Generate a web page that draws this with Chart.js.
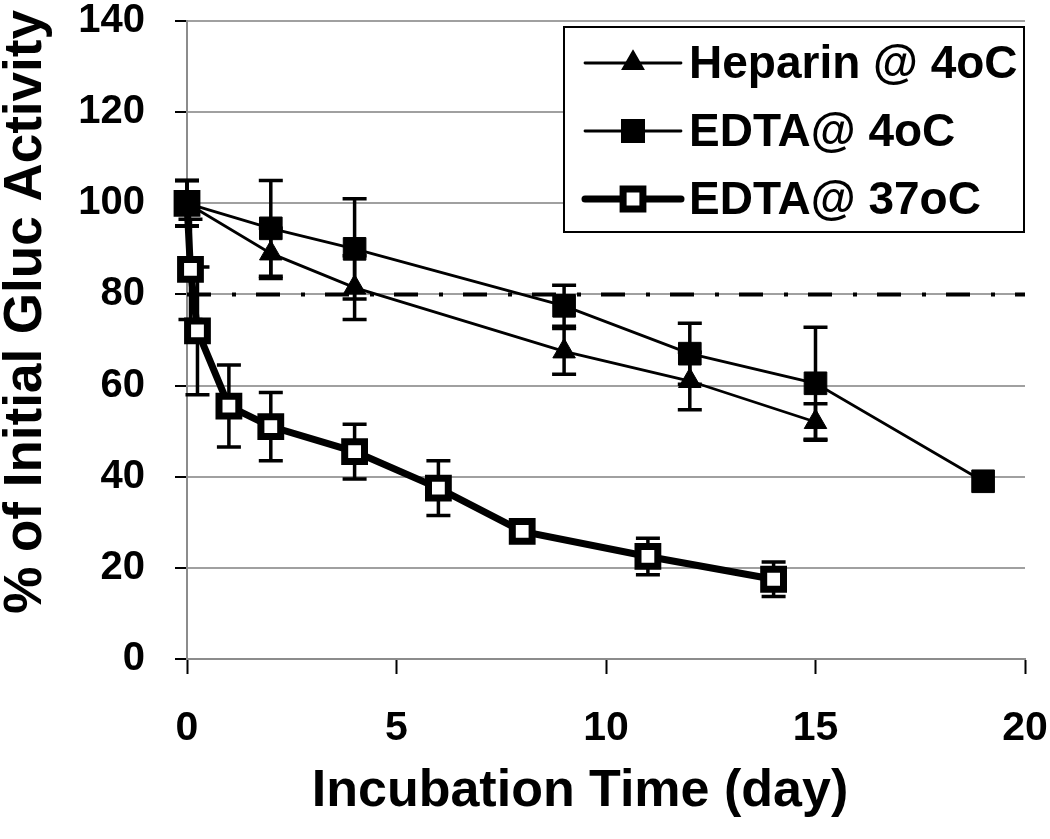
<!DOCTYPE html>
<html>
<head>
<meta charset="utf-8">
<script src="https://cdn.jsdelivr.net/npm/chart.js@4.4.0/dist/chart.umd.min.js"></script>
<style>
  body { margin: 0; background: #fff; }
</style>
</head>
<body>
<canvas id="chart" width="1050" height="839"></canvas>
<script>
// Heparin @ 4oC
const heparinDays = [0, 2, 4, 9, 12, 15];
const heparinValues = [100, 89, 81.5, 67.5, 61, 52];
const heparinErrors = [5, 5.5, 7, 5, 6.3, 4];

// EDTA@ 4oC
const edta4Days = [0, 2, 4, 9, 12, 15, 19];
const edta4Values = [100, 94.5, 90, 77.5, 67, 60.5, 39];
const edta4Errors = [5, 10.5, 11, 4.5, 6.7, 12.3, 0];

// EDTA@ 37oC
const edta37Days = [0, 0.083, 0.25, 1, 2, 4, 6, 8, 11, 14];
const edta37Values = [100, 85.5, 72, 55.5, 51, 45.5, 37.5, 28, 22.5, 17.5];
const edta37Errors = [5, 11, 14, 9, 7.5, 6, 6, 1.5, 4, 3.8];

// 80% reference line
const refDays = [0, 20];
const refValues = [80, 80];

const xTickValues = [0, 5, 10, 15, 20];
const yTickValues = [0, 20, 40, 60, 80, 100, 120, 140];

const xTitle = 'Incubation Time (day)';
const yTitle = '% of Initial Gluc Activity';

const FONT = '"Liberation Sans", Arial, sans-serif';

function toPoints(xs, ys) {
    return xs.map((x, i) => ({ x: x, y: ys[i] }));
}

// error bars drawn under the lines, through the y scale
const errorBars = {
    id: 'errorBars',
    beforeDatasetsDraw(chart) {
        const ctx = chart.ctx;
        const yScale = chart.scales.y;
        chart.data.datasets.forEach((ds, i) => {
            if (!ds.errors) return;
            const meta = chart.getDatasetMeta(i);
            ctx.save();
            ctx.strokeStyle = '#000';
            ctx.lineWidth = 3.5;
            meta.data.forEach((pt, j) => {
                const err = ds.errors[j];
                if (!err) return;
                const v = ds.data[j].y;
                const top = yScale.getPixelForValue(v + err);
                const bot = yScale.getPixelForValue(v - err);
                ctx.beginPath();
                ctx.moveTo(pt.x, top);
                ctx.lineTo(pt.x, bot);
                ctx.moveTo(pt.x - 12, top);
                ctx.lineTo(pt.x + 12, top);
                ctx.moveTo(pt.x - 12, bot);
                ctx.lineTo(pt.x + 12, bot);
                ctx.stroke();
            });
            ctx.restore();
        });
    }
};

// axis titles sit a bit off the plot centre, like the excel original
const axisTitles = {
    id: 'axisTitles',
    afterDraw(chart) {
        const ctx = chart.ctx;
        ctx.save();
        ctx.fillStyle = '#000';
        ctx.textAlign = 'center';
        ctx.textBaseline = 'middle';
        ctx.font = 'bold 52px ' + FONT;
        ctx.fillText(xTitle, 580, 792);
        ctx.translate(26, 312);
        ctx.rotate(-Math.PI / 2);
        ctx.font = 'bold 53px ' + FONT;
        ctx.fillText(yTitle, 0, 0);
        ctx.restore();
    }
};

// boxed legend in the top right corner
const boxLegend = {
    id: 'boxLegend',
    afterDraw(chart) {
        const ctx = chart.ctx;
        const x0 = 564, y0 = 27, x1 = 1024, y1 = 232;
        const rows = [63, 131, 199];
        ctx.save();
        ctx.fillStyle = '#fff';
        ctx.fillRect(x0, y0, x1 - x0, y1 - y0);
        ctx.strokeStyle = '#000';
        ctx.lineWidth = 2;
        ctx.strokeRect(x0, y0, x1 - x0, y1 - y0);

        chart.data.datasets.filter(ds => ds.errors).forEach((ds, k) => {
            const y = rows[k];
            ctx.strokeStyle = '#000';
            ctx.lineWidth = ds.borderWidth;
            ctx.lineCap = 'round';
            ctx.beginPath();
            ctx.moveTo(585, y);
            ctx.lineTo(681, y);
            ctx.stroke();
            ctx.lineCap = 'butt';
            ctx.fillStyle = ds.pointBackgroundColor;
            ctx.strokeStyle = ds.pointBorderColor;
            Chart.helpers.drawPoint(ctx, {
                pointStyle: ds.pointStyle,
                radius: ds.legendRadius,
                borderWidth: ds.pointBorderWidth,
                rotation: 0
            }, 633, y);

            ctx.fillStyle = '#000';
            ctx.font = 'bold 46px ' + FONT;
            ctx.textBaseline = 'middle';
            ctx.textAlign = 'left';
            ctx.fillText(ds.label, 689, y + 2);
        });
        ctx.restore();
    }
};

new Chart(document.getElementById('chart'), {
    type: 'line',
    data: {
        datasets: [
            {
                label: 'Heparin @ 4oC',
                data: toPoints(heparinDays, heparinValues),
                errors: heparinErrors,
                borderColor: '#000',
                borderWidth: 2.8,
                pointStyle: 'triangle',
                pointRadius: 13,
                legendRadius: 11,
                pointBackgroundColor: '#000',
                pointBorderColor: '#000',
                pointBorderWidth: 1,
                clip: false
            },
            {
                label: 'EDTA@ 4oC',
                data: toPoints(edta4Days, edta4Values),
                errors: edta4Errors,
                borderColor: '#000',
                borderWidth: 2.8,
                pointStyle: 'rect',
                pointRadius: 16,
                legendRadius: 15,
                pointBackgroundColor: '#000',
                pointBorderColor: '#000',
                pointBorderWidth: 1,
                clip: false
            },
            {
                label: 'EDTA@ 37oC',
                data: toPoints(edta37Days, edta37Values),
                errors: edta37Errors,
                borderColor: '#000',
                borderWidth: 7,
                pointStyle: 'rect',
                pointRadius: 14,
                legendRadius: 14,
                pointBackgroundColor: '#fff',
                pointBorderColor: '#000',
                pointBorderWidth: 7,
                clip: false
            },
            {
                label: '80%',
                data: toPoints(refDays, refValues),
                borderColor: '#000',
                borderWidth: 4,
                borderDash: [24, 21, 4, 20],
                pointRadius: 0,
                order: 10,
                clip: false
            }
        ]
    },
    options: {
        responsive: false,
        animation: false,
        layout: { padding: { top: 14, right: 25, left: 0, bottom: 0 } },
        plugins: {
            legend: { display: false },
            tooltip: { enabled: false }
        },
        elements: { line: { tension: 0 } },
        scales: {
            x: {
                type: 'linear',
                min: 0,
                max: 20,
                afterBuildTicks: s => { s.ticks = xTickValues.map(v => ({ value: v })); },
                afterFit: s => { s.height = 180; s.paddingLeft = 0; s.paddingRight = 0; },
                border: { color: '#8c8c8c', width: 2 },
                grid: {
                    drawOnChartArea: false,
                    drawTicks: true,
                    tickLength: 15,
                    tickColor: '#000',
                    tickWidth: 2
                },
                ticks: {
                    color: '#000',
                    padding: 30,
                    maxRotation: 0,
                    font: { family: FONT, size: 41, weight: 'bold' }
                }
            },
            y: {
                min: 0,
                max: 140,
                afterBuildTicks: s => { s.ticks = yTickValues.map(v => ({ value: v })); },
                afterFit: s => { s.width = 187; s.paddingTop = 0; s.paddingBottom = 0; },
                border: { color: '#8c8c8c', width: 2 },
                grid: {
                    color: '#a0a0a0',
                    lineWidth: 2,
                    tickLength: 12,
                    tickColor: '#000',
                    tickWidth: 2
                },
                ticks: {
                    color: '#000',
                    padding: 30,
                    font: { family: FONT, size: 40, weight: 'bold' }
                }
            }
        }
    },
    plugins: [errorBars, axisTitles, boxLegend]
});
</script>
</body>
</html>
